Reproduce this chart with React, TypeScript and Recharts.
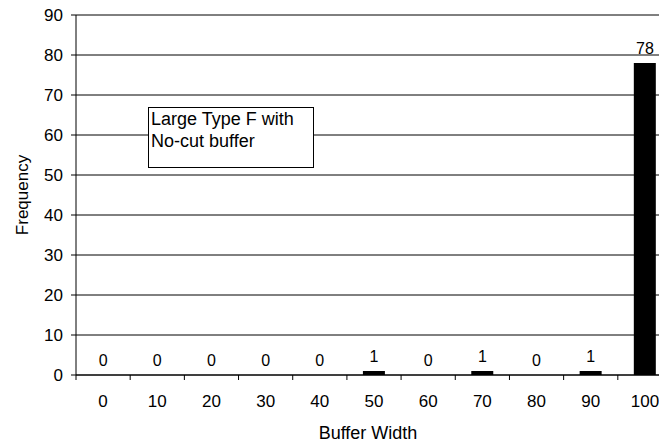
import React from 'react';
import { ComposedChart, Bar, Line, XAxis, YAxis, CartesianGrid, LabelList } from 'recharts';

const widths = ['0', '10', '20', '30', '40', '50', '60', '70', '80', '90', '100'];
const frequency = [0, 0, 0, 0, 0, 1, 0, 1, 0, 1, 78];
const yTicks = [0, 10, 20, 30, 40, 50, 60, 70, 80, 90];

const data = widths.map((w, i) => ({ width: w, freq: frequency[i] }));

const FONT = '"Liberation Sans", Arial, sans-serif';

// Category label at the band centre, tick marks at the band edges.
const EdgeTick = (props: any) => {
  const { x, y, payload, index, visibleTicksCount, width } = props;
  const half = width / visibleTicksCount / 2;
  const top = y - 8;
  return (
    <g>
      <line x1={x - half} y1={top} x2={x - half} y2={top + 5} stroke="#000" />
      {index === visibleTicksCount - 1 && (
        <line x1={x + half} y1={top} x2={x + half} y2={top + 5} stroke="#000" />
      )}
      <text x={x} y={y + 24} textAnchor="middle" fill="#000" fontSize={17} fontFamily={FONT}>
        {payload.value}
      </text>
    </g>
  );
};

const XTitle = (props: any) => {
  const { viewBox } = props;
  return (
    <text x={viewBox.x + viewBox.width / 2 - 6} y={439} textAnchor="middle" fill="#000" fontSize={18} fontFamily={FONT}>
      Buffer Width
    </text>
  );
};

const YTitle = (props: any) => {
  const { viewBox } = props;
  const cy = viewBox.y + viewBox.height / 2;
  return (
    <text x={28} y={cy} transform={`rotate(-90 28 ${cy})`} textAnchor="middle" fill="#000" fontSize={17} fontFamily={FONT}>
      Frequency
    </text>
  );
};

const ValueLabel = (props: any) => {
  const { x, y, value } = props;
  return (
    <text x={x} y={y - 9} textAnchor="middle" fill="#000" fontSize={16} fontFamily={FONT}>
      {value}
    </text>
  );
};

export default function App() {
  return (
    <div style={{ margin: -8, width: 667, height: 447, overflow: 'hidden', position: 'relative', background: '#fff' }}>
      <ComposedChart
        width={680}
        height={447}
        data={data}
        margin={{ top: 15, right: 8, left: 0, bottom: 0 }}
        barSize={22}
      >
        <CartesianGrid vertical={false} stroke="#000" strokeWidth={1} />
        <XAxis
          dataKey="width"
          height={72}
          axisLine={{ stroke: '#000' }}
          tickLine={false}
          tick={<EdgeTick />}
          interval={0}
          label={<XTitle />}
        />
        <YAxis
          width={76}
          domain={[0, 90]}
          ticks={yTicks}
          interval={0}
          axisLine={{ stroke: '#000' }}
          tickLine={{ stroke: '#000' }}
          tickSize={5}
          tickMargin={8}
          tick={{ fill: '#000', fontSize: 17, fontFamily: FONT }}
          label={<YTitle />}
        />
        <Bar dataKey="freq" fill="#000" isAnimationActive={false} />
        <Line dataKey="freq" stroke="none" dot={false} activeDot={false} isAnimationActive={false}>
          <LabelList dataKey="freq" content={<ValueLabel />} />
        </Line>
      </ComposedChart>
      <div
        style={{
          position: 'absolute',
          left: 148,
          top: 107,
          width: 166,
          height: 61,
          border: '1px solid #000',
          background: '#fff',
          fontFamily: FONT,
          fontSize: 18,
          lineHeight: '22px',
          padding: '0px 2px',
          boxSizing: 'border-box',
          color: '#000',
        }}
      >
        Large Type F with
        <br />
        No-cut buffer
      </div>
    </div>
  );
}
